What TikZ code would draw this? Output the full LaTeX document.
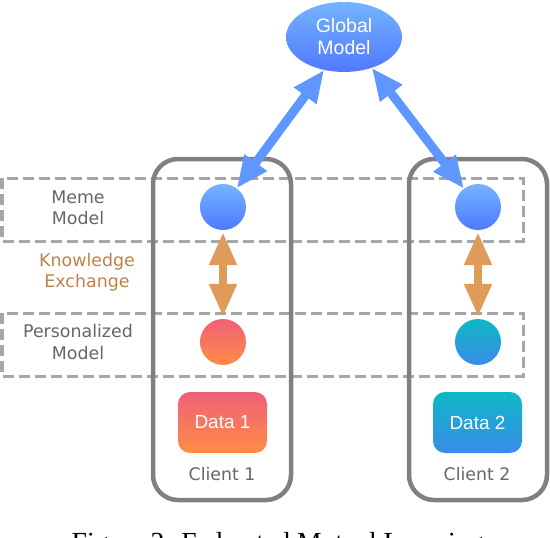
\documentclass[tikz,border=0pt]{standalone}
\usepackage{fontspec}
\setmainfont{DejaVu Sans}
\newfontfamily\helv{Liberation Sans}
\newfontfamily\capserif{Liberation Serif}
\usetikzlibrary{shapes.geometric,arrows.meta}
\definecolor{globtop}{HTML}{74B4FF}
\definecolor{globbot}{HTML}{5078FF}
\definecolor{bluearr}{HTML}{5F96FF}
\definecolor{orangearr}{HTML}{DE9C58}
\definecolor{knowtxt}{HTML}{BE8246}
\definecolor{redtop}{HTML}{F06078}
\definecolor{redbot}{HTML}{FF8C46}
\definecolor{tealtop}{HTML}{0EB8C4}
\definecolor{tealbot}{HTML}{3A8CEB}
\definecolor{graytxt}{HTML}{666666}
\definecolor{boxgray}{HTML}{808080}
\definecolor{dashgray}{HTML}{A6A6A6}
\tikzset{
  rowbox/.style={draw=dashgray, line width=3pt, dash pattern=on 11pt off 5pt},
  clientbox/.style={draw=boxgray, line width=4.5pt, rounded corners=25pt, minimum width=138pt, minimum height=341pt, inner sep=0pt},
  ball/.style={circle, minimum size=46pt, inner sep=0pt},
  bluecirc/.style={ball, top color=globtop, bottom color=globbot},
  redcirc/.style={ball, top color=redtop, bottom color=redbot},
  tealcirc/.style={ball, top color=tealtop, bottom color=tealbot},
  datared/.style={rounded corners=12pt, minimum width=89pt, minimum height=61pt, inner sep=0pt, top color=redtop, bottom color=redbot, text=white, font=\helv\fontsize{19}{22}\selectfont},
  datateal/.style={datared, top color=tealtop, bottom color=tealbot},
  rowlabel/.style={align=center, text=graytxt, font=\fontsize{17.4}{21.5}\selectfont},
  clientlabel/.style={text=graytxt, font=\fontsize{17.3}{20}\selectfont},
  bluelink/.style={draw=bluearr, line width=9pt, {Triangle[width=26pt,length=32pt]}-{Triangle[width=26pt,length=32pt]}},
  orangelink/.style={draw=orangearr, line width=8pt, {Triangle[width=26pt,length=33pt]}-{Triangle[width=26pt,length=33pt]}, shorten <=2pt, shorten >=2pt}
}
\begin{document}
\begin{tikzpicture}[x=1pt,y=-1pt]
\useasboundingbox (0,0) rectangle (550,538);
\clip (0,0) rectangle (550,538);
% dashed rows
\draw[rowbox] (2,178) rectangle (523,241);
\draw[rowbox] (2,313) rectangle (523,376);
% clients
\node[clientbox] (client1) at (222,329.5) {};
\node[clientbox] (client2) at (478,329.5) {};
% global model
\node[ellipse, minimum width=116pt, minimum height=70pt, inner sep=0pt, top color=globtop, bottom color=globbot,
      align=center, text=white, font=\helv\fontsize{19.5}{22}\selectfont] (global) at (344,37) {Global\\Model};
% circles
\node[bluecirc] (meme1) at (223,207) {};
\node[bluecirc] (meme2) at (478,207) {};
\node[redcirc] (pers1) at (223,342) {};
\node[tealcirc] (pers2) at (478,342) {};
% data
\node[datared] (data1) at (222.5,422.5) {Data 1};
\node[datateal] (data2) at (477.5,422.5) {Data 2};
% labels
\node[clientlabel] (c1lab) at (222,474) {Client 1};
\node[clientlabel] (c2lab) at (477,474) {Client 2};
\node[rowlabel] (memelab) at (78,208) {Meme\\Model};
\node[rowlabel] (perslab) at (78,342) {Personalized\\Model};
\node[rowlabel, text=knowtxt] (knowlab) at (87,272) {Knowledge\\Exchange};
% arrows
\draw[bluelink] (global.239) -- (meme1);
\draw[bluelink] (global.312) -- (meme2);
\draw[orangelink] (meme1) -- (pers1);
\draw[orangelink] (meme2) -- (pers2);
% caption (cut off at bottom edge, as in the reference)
\node[anchor=base, font=\capserif\fontsize{27.6}{30}\selectfont] (caption) at (277.5,551) {Figure 2: Federated Mutual Learning};
\end{tikzpicture}
\end{document}
